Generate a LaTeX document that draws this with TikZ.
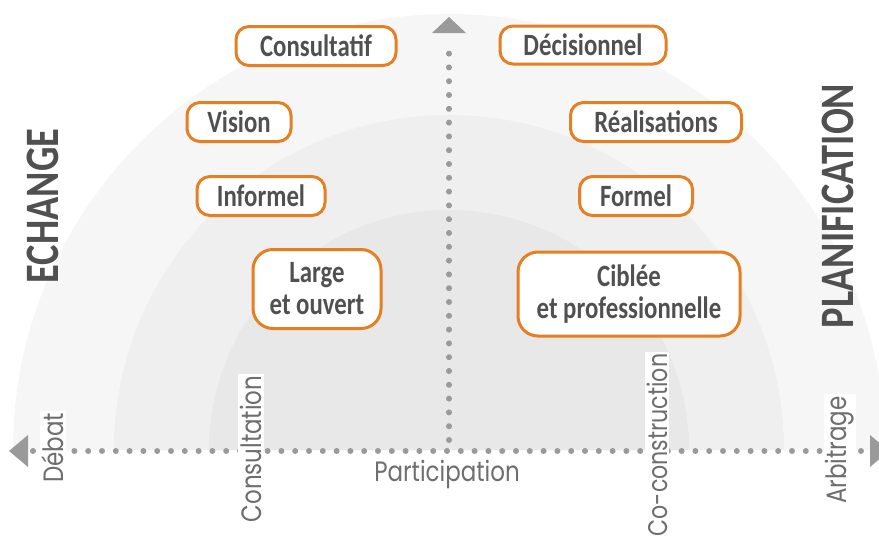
\documentclass[tikz,border=0pt]{standalone}
\usepackage{fontspec}
\newfontfamily\boxfont[FakeStretch=0.8]{Carlito}
\newfontfamily\labfont[FakeStretch=0.82]{Poppins}
\definecolor{ring1}{HTML}{F6F6F6}
\definecolor{ring2}{HTML}{EFEFEF}
\definecolor{ring3}{HTML}{E8E8E8}
\definecolor{orng}{RGB}{230,126,34}
\definecolor{dotgray}{HTML}{9A9A9A}
\definecolor{txtdark}{HTML}{505050}
\definecolor{txtlab}{HTML}{6E6E6E}
\tikzset{
  optbox/.style={draw=orng, line width=3pt, rounded corners=13pt, fill=white,
    text=txtdark, font=\boxfont\bfseries\fontsize{31}{32}\selectfont,
    align=center, inner sep=0pt},
  axlab/.style={fill=white, text=txtlab, inner sep=2pt,
    font=\labfont\fontsize{28}{28}\selectfont},
  bigtitle/.style={text=txtdark, rotate=90,
    font=\boxfont\bfseries\fontsize{48}{48}\selectfont},
  dotline/.style={dotgray, line width=6pt, line cap=round,
    dash pattern=on 0pt off 13.8pt},
  tip/.style={fill=dotgray}
}
\begin{document}
\begin{tikzpicture}[x=1pt, y=-1pt]
\useasboundingbox (0,0) rectangle (879,536);
% rings
\fill[ring1] (13,450) arc[start angle=180, end angle=0, radius=436pt] -- cycle;
\fill[ring2] (114,450) arc[start angle=180, end angle=0, radius=335pt] -- cycle;
\fill[ring3] (209,450) arc[start angle=180, end angle=0, radius=240pt] -- cycle;
% axes
\coordinate (hl) at (33,451);
\coordinate (hr) at (866,451);
\coordinate (vb) at (449,440);
\coordinate (vt) at (449,42);
\draw[dotline] (hl) -- (hr);
\draw[dotline] (vb) -- (vt);
\fill[tip] (449,17) -- (432,33) -- (466,33) -- cycle;
\fill[tip] (9,451) -- (28,435) -- (28,467) -- cycle;
\fill[tip] (889,451) -- (870,435) -- (870,467) -- cycle;
% axis labels
\node[axlab, rotate=90] (debat) at (53,448) {Débat};
\node[axlab, rotate=90] (consult) at (251,449) {Consultation};
\node[axlab, rotate=90, font=\labfont\fontsize{27}{27}\selectfont] (cocons) at (657,445) {Co-construction};
\node[axlab, rotate=90] (arbit) at (840,450) {Arbitrage};
\node[text=txtlab, font=\labfont\fontsize{28}{28}\selectfont, inner sep=0pt] (partic) at (447,474) {Participation};
% titles
\node[bigtitle] (echange) at (43,206) {ECHANGE};
\node[bigtitle] (planif) at (838,206) {PLANIFICATION};
% boxes
\node[optbox, minimum width=160pt, minimum height=39pt] (consultatif) at (316,46) {Consultatif};
\node[optbox, minimum width=166pt, minimum height=38pt] (decision) at (583,45) {Décisionnel};
\node[optbox, minimum width=104pt, minimum height=39pt] (vision) at (239,122) {Vision};
\node[optbox, minimum width=171pt, minimum height=39pt] (realis) at (656,122) {Réalisations};
\node[optbox, minimum width=128pt, minimum height=39pt] (informel) at (261,196) {Informel};
\node[optbox, minimum width=113pt, minimum height=39pt] (formel) at (636,196) {Formel};
\node[optbox, minimum width=128pt, minimum height=79pt, rounded corners=20pt] (large) at (317,289) {Large\\et ouvert};
\node[optbox, minimum width=222pt, minimum height=84pt, rounded corners=20pt] (ciblee) at (629,294) {Ciblée\\et professionnelle};
\end{tikzpicture}
\end{document}
